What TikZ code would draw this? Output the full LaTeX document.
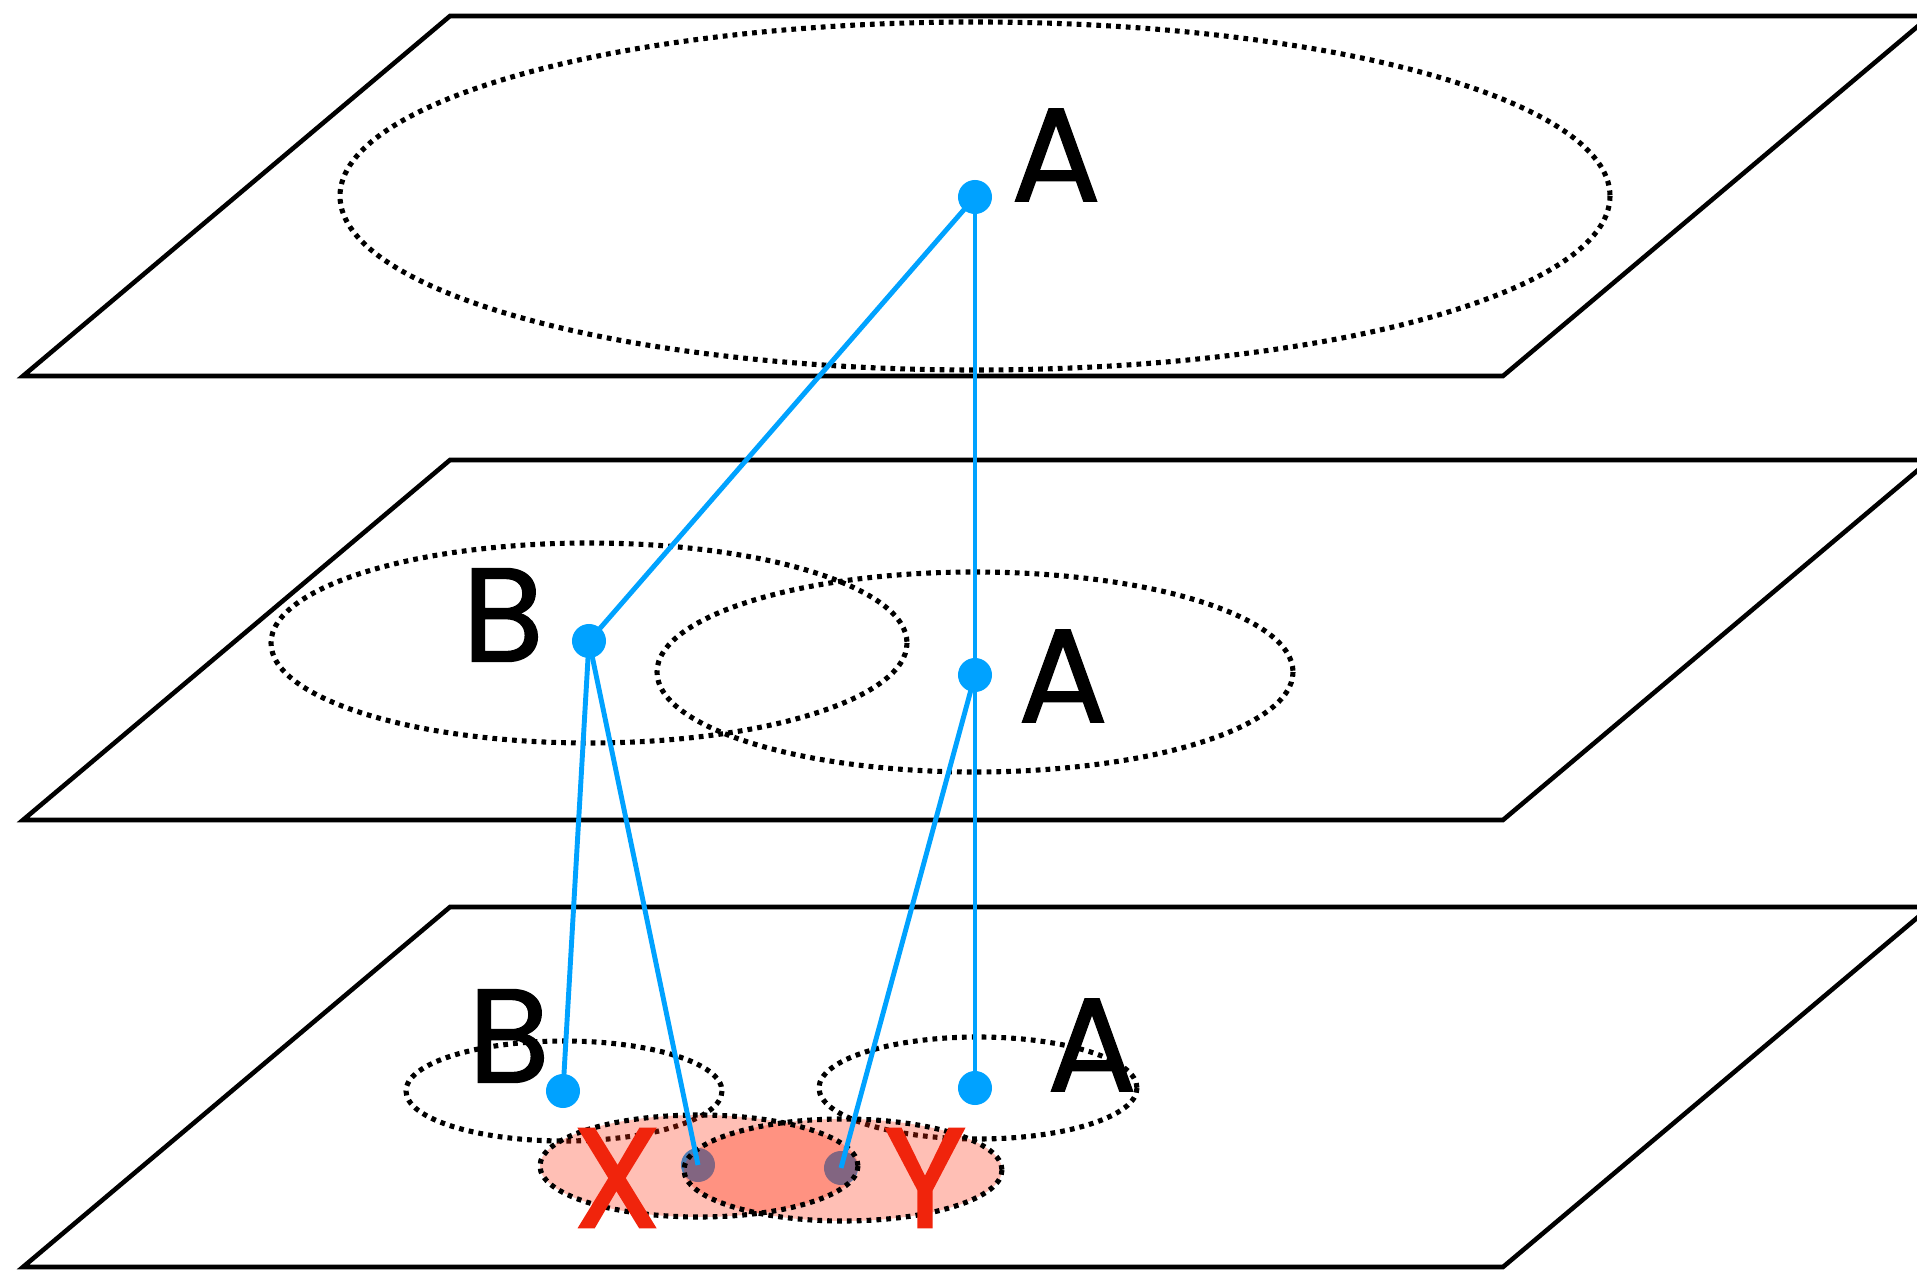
\documentclass[tikz,border=0pt]{standalone}
\usepackage{fontspec}
\setmainfont{Poppins}
\newfontfamily\letraFont{Poppins}[FakeBold=1.0]
\newfontfamily\marcaFont{Poppins}[FakeBold=1.8]
\usepackage{tikz}
\usetikzlibrary{positioning,calc}
\definecolor{azulPT}{RGB}{0,162,255}
\definecolor{rojoPT}{RGB}{240,36,12}
\definecolor{rojoZona}{RGB}{255,45,10}

\begin{document}
\begin{tikzpicture}[
      x=0.01cm, y=-0.01cm,
      plano/.style  = {draw=black, line width=1.3pt, line join=miter, fill=white},
      zona/.style   = {draw=black, line width=1.45pt, dash pattern=on 1.35pt off 1.45pt},
      mancha/.style = {fill=rojoZona, fill opacity=0.3},
      punto/.style  = {circle, fill=azulPT, inner sep=0pt, minimum size=0.34cm},
      enlace/.style = {draw=azulPT, line width=1.4pt},
      letra/.style  = {inner sep=0pt, font=\letraFont\fontsize{38}{40}\selectfont},
      marca/.style  = {inner sep=0pt, text=rojoPT, font=\marcaFont\fontsize{40}{42}\selectfont},
    ]
    \useasboundingbox (0,0) rectangle (1917,1270);
    \clip (0,0) rectangle (1917,1270);

    % ── Planos ───────────────────────────────────────────────────
    \foreach \dy in {0,444,891}{
      \draw[plano] (450,16+\dy) -- (1930,16+\dy) -- (1503,376+\dy) -- (23,376+\dy) -- cycle;
    }

    % ── Regiones punteadas ───────────────────────────────────────
    \draw[zona] (975,196)  ellipse [x radius=635, y radius=174];
    \draw[zona] (589,643)  ellipse [x radius=318, y radius=100];
    \draw[zona] (975,672)  ellipse [x radius=318, y radius=100];
    \draw[zona] (564,1091) ellipse [x radius=158, y radius=50];
    \draw[zona] (978,1088) ellipse [x radius=159, y radius=51];

    % ── Puntos ───────────────────────────────────────────────────
    \node[punto] (A1) at (975,197)  {};
    \node[punto] (B2) at (589,641)  {};
    \node[punto] (A2) at (975,675)  {};
    \node[punto] (B3) at (563,1091) {};
    \node[punto] (A3) at (975,1088) {};
    \node[punto] (X3) at (698,1165) {};
    \node[punto] (Y3) at (841,1168) {};

    % ── Zonas rojas ──────────────────────────────────────────────
    \fill[mancha] (699,1166) ellipse [x radius=159, y radius=51];
    \fill[mancha] (843,1170) ellipse [x radius=159, y radius=51];
    \draw[zona] (699,1166) ellipse [x radius=159, y radius=51];
    \draw[zona] (843,1170) ellipse [x radius=159, y radius=51];

    % ── Enlaces ──────────────────────────────────────────────────
    \draw[enlace] (A1.center) -- (B2.center);
    \draw[enlace] (A1.center) -- (A2.center);
    \draw[enlace] (A2.center) -- (A3.center);
    \draw[enlace] (B2.center) -- (B3.center);
    \draw[enlace] (B2.center) -- (X3.center);
    \draw[enlace] (A2.center) -- (Y3.center);

    % ── Etiquetas ────────────────────────────────────────────────
    \node[letra] (lA1) at (1056,155)  {A};
    \node[letra] (lB2) at (503,615)   {B};
    \node[letra] (lA2) at (1063,676)  {A};
    \node[letra] (lB3) at (509,1036)  {B};
    \node[letra] (lA3) at (1092,1045) {A};
    \node[marca] (lX)  at (617,1178)  {X};
    \node[marca] (lY)  at (925,1178)  {Y};

  \end{tikzpicture}
\end{document}
